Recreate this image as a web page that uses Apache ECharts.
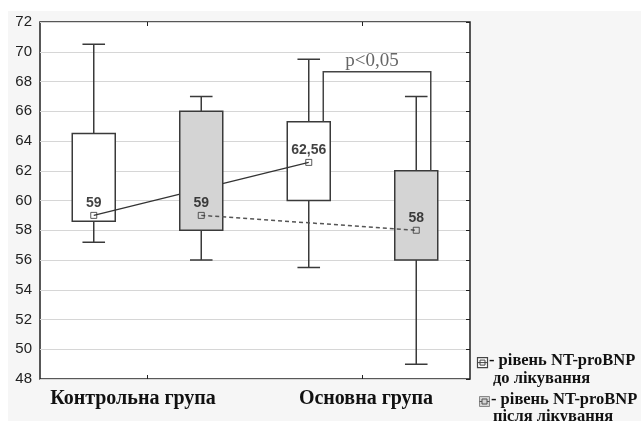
<!DOCTYPE html>
<html><head><meta charset="utf-8">
<script src="https://cdn.jsdelivr.net/npm/echarts@6/dist/echarts.min.js"></script>
<style>html,body{margin:0;padding:0;background:#fff}#c{width:641px;height:421px}</style>
</head><body><div id="c"></div>
<script>
// ---- data ----
const groups = ['Контрольна група', 'Основна група'];
const slots = ['ctrl-before', 'ctrl-after', 'main-before', 'main-after'];
// [min, Q1, median, Q3, max]
const ctrlBefore = [57.2, 58.6, 59, 64.5, 70.5];
const ctrlAfter  = [56, 58, 59, 66, 67];
const mainBefore = [55.5, 60, 62.56, 65.3, 69.5];
const mainAfter  = [49, 56, 58, 62, 67];
const yTicks = [48, 72, 2]; // min, max, step
const sigLabel = 'p<0,05';
const sigLevel = 68.65;
const legendBefore = ['- рівень NT-proBNP', 'до лікування'];
const legendAfter = ['- рівень NT-proBNP', 'після лікування'];

const boxes = [ctrlBefore, ctrlAfter, mainBefore, mainAfter];
const stroke = '#3a3a3a';

function whiskerRender(params, api) {
  const x = api.value(0);
  const lo = api.coord([x, api.value(1)]);
  const hi = api.coord([x, api.value(4)]);
  const band = api.size([1, 0])[0];
  const cw = band * 0.21, cx = lo[0];
  return { type: 'polyline',
    shape: { points: [[cx - cw / 2, hi[1]], [cx + cw / 2, hi[1]], [cx, hi[1]], [cx, lo[1]], [cx - cw / 2, lo[1]], [cx + cw / 2, lo[1]]] },
    style: { stroke: stroke, lineWidth: 1.5, fill: 'none' } };
}
function rectRender(params, api) {
  const x = api.value(0);
  const q1 = api.coord([x, api.value(2)]);
  const q3 = api.coord([x, api.value(3)]);
  const band = api.size([1, 0])[0];
  const bw = band * 0.4, cx = q1[0];
  const fill = api.value(5) === 1 ? '#d4d4d4' : '#ffffff';
  return { type: 'rect', shape: { x: cx - bw / 2, y: q3[1], width: bw, height: q1[1] - q3[1] },
    style: { fill: fill, stroke: stroke, lineWidth: 1.5 } };
}
function connRender(dashed) {
  return (params, api) => {
    const a = api.coord([api.value(0), api.value(1)]);
    const b = api.coord([api.value(2), api.value(3)]);
    return { type: 'line', shape: { x1: a[0], y1: a[1], x2: b[0], y2: b[1] },
      style: dashed ? { stroke: '#555', lineWidth: 1.5, lineDash: [4, 3] } : { stroke: '#333', lineWidth: 1.2 } };
  };
}

const boxData = boxes.map((b, i) => [i, b[0], b[1], b[3], b[4], i % 2]);
const whiteData = boxData.filter(d => d[5] === 0);
const grayData = boxData.filter(d => d[5] === 1);
const medians = boxes.map((b, i) => [i, b[2]]);
const enc = { x: 0, y: [1, 2, 3, 4] };

const chart = echarts.init(document.getElementById('c'));
const lf = 'bold 16.5px "Liberation Serif"';
chart.setOption({
  animation: false,
  backgroundColor: '#ffffff',
  graphic: [
    { type: 'rect', z: -10, shape: { x: 8, y: 11, width: 633, height: 410 }, style: { fill: '#f6f6f6' } },
    { type: 'group', left: 475, top: 357, children: [
      { type: 'rect', shape: { x: 0, y: 0, width: 10, height: 10 }, style: { fill: '#fff', stroke: '#444', lineWidth: 1.2 } },
      { type: 'rect', shape: { x: 2.5, y: 2.5, width: 5, height: 5 }, style: { fill: 'none', stroke: '#444', lineWidth: 1 } },
      { type: 'line', shape: { x1: 0, y1: 5, x2: 10, y2: 5 }, style: { stroke: '#444', lineWidth: 1 } }
    ]},
    { type: 'group', left: 477, top: 396, children: [
      { type: 'rect', shape: { x: 0, y: 0, width: 10, height: 10 }, style: { fill: '#d4d4d4', stroke: '#888', lineWidth: 1 } },
      { type: 'rect', shape: { x: 2.5, y: 2.5, width: 5, height: 5 }, style: { fill: 'none', stroke: '#555', lineWidth: 1 } },
      { type: 'line', shape: { x1: 0, y1: 5, x2: 2.5, y2: 5 }, style: { stroke: '#555', lineWidth: 1 } },
      { type: 'line', shape: { x1: 7.5, y1: 5, x2: 10, y2: 5 }, style: { stroke: '#555', lineWidth: 1 } }
    ]},
    { type: 'text', left: 489, top: 352, style: { text: legendBefore[0], font: lf, fill: '#111' } },
    { type: 'text', left: 493, top: 370, style: { text: legendBefore[1], font: lf, fill: '#111' } },
    { type: 'text', left: 491, top: 391, style: { text: legendAfter[0], font: lf, fill: '#111' } },
    { type: 'text', left: 493, top: 408, style: { text: legendAfter[1], font: lf, fill: '#111' } }
  ],
  grid: { left: 40, right: 171, top: 22, bottom: 42, show: true, backgroundColor: '#fff', borderColor: '#222', borderWidth: 1.5 },
  xAxis: [
    { type: 'category', data: slots, show: false, boundaryGap: true },
    { type: 'category', data: groups, position: 'bottom', boundaryGap: true,
      axisLine: { show: false },
      axisTick: { show: true, inside: true, alignWithLabel: true, length: 4, lineStyle: { color: '#222' } },
      axisLabel: { interval: 0, hideOverlap: false, margin: 10, color: '#111', fontFamily: 'Liberation Serif', fontWeight: 'bold', fontSize: 20,
        formatter: (v, i) => i === 0 ? '{a|' + v + '}' : '{b|' + v + '}',
        rich: { a: { padding: [0, 29, 0, 0], fontFamily: 'Liberation Serif', fontWeight: 'bold', fontSize: 20, color: '#111' },
                b: { padding: [0, 0, 0, 7], fontFamily: 'Liberation Serif', fontWeight: 'bold', fontSize: 20, color: '#111' } } } },
    { type: 'category', data: groups, position: 'top', boundaryGap: true,
      axisLine: { show: false }, axisLabel: { show: false },
      axisTick: { show: true, inside: true, alignWithLabel: true, length: 4, lineStyle: { color: '#222' } } }
  ],
  yAxis: [
    { type: 'value', min: yTicks[0], max: yTicks[1], interval: yTicks[2], position: 'left',
      axisLine: { show: false }, axisTick: { show: false },
      axisLabel: { margin: 8, color: '#222', fontFamily: 'Liberation Sans', fontSize: 15 },
      splitLine: { show: true, lineStyle: { color: '#d6d6d6', width: 1 } } },
    { type: 'value', min: yTicks[0], max: yTicks[1], interval: yTicks[2], position: 'right',
      axisLine: { show: false }, axisLabel: { show: false }, splitLine: { show: false },
      axisTick: { show: true, inside: true, length: 4, lineStyle: { color: '#222' } } }
  ],
  series: [
    { type: 'custom', z: 1, renderItem: whiskerRender, data: whiteData, encode: enc },
    { type: 'custom', name: 'до лікування', z: 2, renderItem: rectRender, data: whiteData, encode: enc },
    { type: 'custom', z: 3, renderItem: connRender(false), data: [[medians[0][0], medians[0][1], medians[2][0], medians[2][1]]],
      encode: { x: [0, 2], y: [1, 3] } },
    { type: 'custom', z: 4, renderItem: whiskerRender, data: grayData, encode: enc },
    { type: 'custom', name: 'після лікування', z: 5, renderItem: rectRender, data: grayData, encode: enc },
    { type: 'custom', z: 6, renderItem: connRender(true), data: [[medians[1][0], medians[1][1], medians[3][0], medians[3][1]]],
      encode: { x: [0, 2], y: [1, 3] } },
    { type: 'scatter', z: 7, data: medians, symbol: 'rect', symbolSize: 6,
      itemStyle: { color: 'rgba(0,0,0,0)', borderColor: '#333', borderWidth: 1 },
      label: { show: true, position: 'top', distance: 2, color: '#111', fontFamily: 'Liberation Sans', fontWeight: 'bold', fontSize: 14,
        formatter: p => String(p.value[1]).replace('.', ',') } },
    { type: 'custom', z: 8, data: [[2, 3, sigLevel, mainBefore[3], mainAfter[3]]],
      encode: { x: [0, 1], y: [2, 3, 4] },
      renderItem: (params, api) => {
        const band = api.size([1, 0])[0];
        const off = band * 0.135;
        const top = api.coord([api.value(0), api.value(2)]);
        const l1 = api.coord([api.value(0), api.value(3)]);
        const r0 = api.coord([api.value(1), api.value(2)]);
        const r1 = api.coord([api.value(1), api.value(4)]);
        const xl = top[0] + off, xr = r0[0] + off;
        return { type: 'group', children: [
          { type: 'polyline', shape: { points: [[xl, l1[1]], [xl, top[1]], [xr, top[1]], [xr, r1[1]]] },
            style: { stroke: '#444', lineWidth: 1.5, fill: 'none' } },
          { type: 'text', style: { text: sigLabel, x: (xl + xr) / 2 - 5, y: top[1] - 1, align: 'center', verticalAlign: 'bottom',
            font: '19px "Liberation Serif"', fill: '#666' } }
        ]};
      } }
  ]
});
</script>
</body></html>
